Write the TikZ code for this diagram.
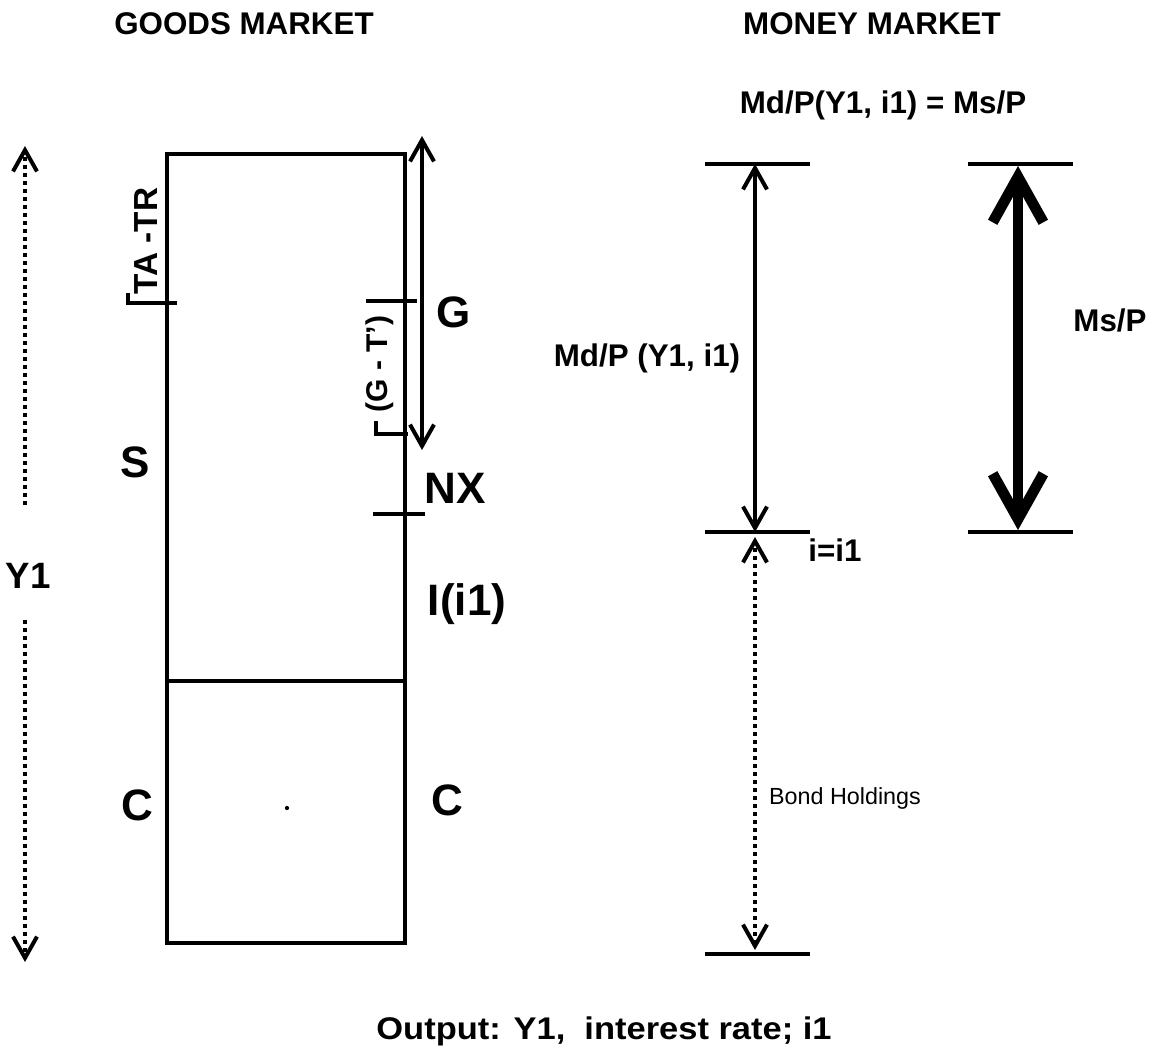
\documentclass[tikz,border=0pt]{standalone}
\usepackage{fontspec}
\setmainfont{Liberation Sans}
\usetikzlibrary{arrows.meta}
\begin{document}
\begin{tikzpicture}[x=0.75pt,y=-0.75pt,
  ln/.style={line width=3pt},
  barb/.tip={Straight Barb[length=16pt,width=18pt,line width=3pt]},
  thinarr/.style={ln,barb-barb},
  thickarr/.style={line width=8pt,{Straight Barb[length=34pt,width=38pt,line width=8pt]}-{Straight Barb[length=34pt,width=38pt,line width=8pt]}},
  dotarr/.style={line width=3pt,dash pattern=on 3pt off 3pt,barb-barb},
  lab/.style={font=\bfseries\fontsize{23.5}{28}\selectfont,inner sep=0pt},
  big/.style={font=\bfseries\fontsize{33}{40}\selectfont,inner sep=0pt},
  small/.style={font=\fontsize{17.5}{21}\selectfont,inner sep=0pt}]
\useasboundingbox (0,0) rectangle (1167,1054);

% ---------------- headings
\node[lab] (gm) at (244,24) {GOODS MARKET};
\node[lab] (mm) at (872,24) {MONEY MARKET};
\node[lab] (eq) at (883,105) {Md/P(Y1, i1) = Ms/P};
\node[lab,xscale=1.1] (out) at (604,1031) {Output: Y1,\ \ interest rate; i1};

% ---------------- goods market box
\coordinate (tl) at (167,154);
\coordinate (br) at (405,943);
\coordinate (ml) at (167,681);
\coordinate (mr) at (405,681);
\draw[ln] (tl) rectangle (br);
\draw[ln] (ml) -- (mr);

% ticks
\coordinate (tatrA) at (128,293);
\coordinate (tatrB) at (177,303);
\draw[ln] (tatrA) |- (tatrB);
\coordinate (gtA) at (366,301);
\coordinate (gtB) at (417,301);
\draw[ln] (gtA) -- (gtB);
\coordinate (gtC) at (376,421);
\coordinate (gtD) at (408,434);
\draw[ln] (gtC) |- (gtD);
\coordinate (nxA) at (373,514);
\coordinate (nxB) at (425,514);
\draw[ln] (nxA) -- (nxB);

% G arrow
\coordinate (gtop) at (422,136);
\coordinate (gbot) at (422,450);
\draw[thinarr] (gbot) -- (gtop);

% rotated labels
\node[lab,rotate=90,font=\bfseries\fontsize{25}{30}\selectfont] (tatr) at (146,241) {TA -TR};
\node[lab,rotate=90,font=\bfseries\fontsize{22.5}{27}\selectfont] (gt) at (380,364) {(G - T')};

% letters
\node[big] (G) at (454,312) {G};
\node[big] (NX) at (455,488) {NX};
\node[big] (I) at (467,604) {I(i1)};
\node[big] (S) at (135,462) {S};
\node[big] (Cl) at (137,805) {C};
\node[big] (Cr) at (447,800) {C};
\fill (287,808) circle (1.6pt);

% Y1 and dotted arrow
\node[lab,font=\bfseries\fontsize{27.5}{33}\selectfont] (Y1) at (28,576) {Y1};
\coordinate (ytop) at (25,146);
\coordinate (yu) at (25,505);
\coordinate (yl) at (25,620);
\coordinate (ybot) at (25,962);
\draw[ln,dash pattern=on 3pt off 3pt,-barb] (yu) -- (ytop);
\draw[ln,dash pattern=on 3pt off 3pt,-barb] (yl) -- (ybot);

% ---------------- money market
\coordinate (m1a) at (705,164);  \coordinate (m1b) at (810,164);
\coordinate (m2a) at (705,532);  \coordinate (m2b) at (810,532);
\coordinate (m3a) at (705,954);  \coordinate (m3b) at (810,954);
\draw[ln] (m1a) -- (m1b);
\draw[ln] (m2a) -- (m2b);
\draw[ln] (m3a) -- (m3b);
\coordinate (mdT) at (755,164);
\coordinate (mdB) at (755,532);
\coordinate (bdT) at (755,537);
\coordinate (bdB) at (755,950);
\draw[thinarr] (mdB) -- (mdT);
\draw[dotarr] (bdB) -- (bdT);

\node[lab] (md) at (647,358) {Md/P (Y1, i1)};
\node[lab] (ii) at (835,550) {i=i1};
\node[small] (bond) at (845,798) {Bond Holdings};

\coordinate (s1a) at (968,164);  \coordinate (s1b) at (1073,164);
\coordinate (s2a) at (968,532);  \coordinate (s2b) at (1073,532);
\draw[ln] (s1a) -- (s1b);
\draw[ln] (s2a) -- (s2b);
\coordinate (msT) at (1018,166);
\coordinate (msB) at (1018,530);
\draw[thickarr] (msB) -- (msT);
\node[lab] (ms) at (1110,320) {Ms/P};
\end{tikzpicture}
\end{document}
